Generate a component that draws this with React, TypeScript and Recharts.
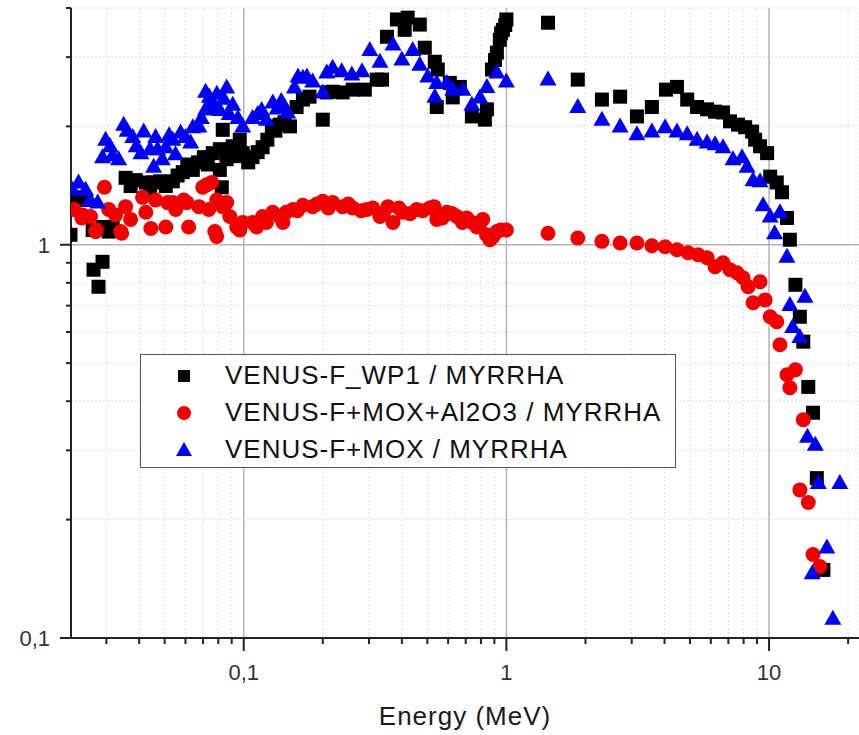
import React from 'react';
import { ScatterChart, Scatter, XAxis, YAxis, CartesianGrid, ReferenceLine, Legend } from 'recharts';

// [energy (MeV), ratio]
const wp1Points: [number, number][] = [
  [0.0219, 1.06], [0.0229, 1.32], [0.025, 1.3], [0.0266, 1.09], [0.0268, 0.864], [0.028, 0.782],
  [0.029, 1.11], [0.029, 0.905], [0.0306, 1.08], [0.0317, 1.11], [0.0355, 1.48], [0.0371, 1.41],
  [0.0388, 1.46], [0.0424, 1.44], [0.044, 1.36], [0.0454, 1.44], [0.048, 1.45], [0.0505, 1.41],
  [0.0537, 1.45], [0.056, 1.5], [0.0586, 1.53], [0.061, 1.6], [0.064, 1.55], [0.067, 1.62],
  [0.0705, 1.67], [0.073, 1.6], [0.0762, 1.71], [0.0811, 1.75], [0.0811, 1.55], [0.0825, 1.4],
  [0.0832, 1.96], [0.086, 1.65], [0.0908, 1.78], [0.093, 1.68], [0.0966, 1.85], [0.0991, 1.71],
  [0.104, 1.62], [0.108, 1.67], [0.113, 1.72], [0.118, 1.77], [0.123, 1.85], [0.128, 2.0],
  [0.132, 1.95], [0.137, 2.02], [0.143, 2.05], [0.15, 2.0], [0.159, 2.24], [0.168, 2.34],
  [0.178, 2.38], [0.2, 2.08], [0.207, 2.44], [0.218, 2.45], [0.238, 2.44], [0.26, 2.48],
  [0.289, 2.48], [0.321, 2.63], [0.336, 2.63], [0.351, 3.38], [0.383, 3.74], [0.41, 3.52],
  [0.421, 3.78], [0.468, 3.63], [0.489, 3.17], [0.534, 2.92], [0.548, 2.79], [0.543, 2.24],
  [0.609, 2.58], [0.625, 2.37], [0.665, 2.52], [0.739, 2.12], [0.828, 2.08], [0.843, 2.21],
  [0.881, 2.79], [0.905, 2.95], [0.92, 3.08], [0.944, 3.32], [0.955, 3.45], [0.97, 3.52],
  [0.99, 3.62], [1.0, 3.74], [1.44, 3.67], [1.87, 2.63], [2.31, 2.34], [2.71, 2.38], [3.14, 2.12],
  [3.58, 2.24], [4.05, 2.48], [4.46, 2.52], [4.88, 2.34], [5.32, 2.24], [5.81, 2.21], [6.23, 2.18],
  [6.68, 2.17], [7.1, 2.06], [7.62, 2.02], [8.11, 1.99], [8.62, 1.94], [8.85, 1.85], [9.24, 1.78],
  [9.83, 1.71], [10.1, 1.49], [10.7, 1.44], [11.2, 1.36], [11.7, 1.17], [12.0, 1.03], [12.6, 0.791],
  [13.1, 0.656], [13.5, 0.567], [14.1, 0.435], [14.7, 0.374], [15.2, 0.255], [16.1, 0.149],
];

const moxAl2o3Points: [number, number][] = [
  [0.0226, 1.23], [0.0242, 1.17], [0.0244, 1.19], [0.0261, 1.18], [0.0273, 1.08], [0.0275, 1.09],
  [0.0295, 1.4], [0.0306, 1.23], [0.0325, 1.19], [0.034, 1.08], [0.0343, 1.07], [0.0355, 1.25],
  [0.0371, 1.16], [0.0412, 1.32], [0.0424, 1.21], [0.0443, 1.1], [0.0462, 1.3], [0.0505, 1.11],
  [0.0513, 1.28], [0.0537, 1.28], [0.0551, 1.23], [0.0591, 1.3], [0.0607, 1.28], [0.0617, 1.11],
  [0.0675, 1.25], [0.0698, 1.4], [0.0723, 1.42], [0.0736, 1.23], [0.0755, 1.44], [0.0776, 1.08],
  [0.0789, 1.3], [0.0789, 1.05], [0.0832, 1.25], [0.0861, 1.28], [0.0885, 1.18], [0.094, 1.11],
  [0.0966, 1.09], [0.0991, 1.14], [0.108, 1.14], [0.112, 1.11], [0.118, 1.18], [0.122, 1.14],
  [0.129, 1.21], [0.137, 1.18], [0.141, 1.14], [0.145, 1.21], [0.154, 1.23], [0.16, 1.22],
  [0.168, 1.26], [0.183, 1.25], [0.19, 1.27], [0.2, 1.29], [0.21, 1.24], [0.218, 1.28],
  [0.238, 1.25], [0.25, 1.27], [0.26, 1.24], [0.28, 1.22], [0.294, 1.23], [0.31, 1.24],
  [0.33, 1.18], [0.34, 1.2], [0.354, 1.25], [0.37, 1.14], [0.39, 1.24], [0.403, 1.21],
  [0.43, 1.2], [0.456, 1.23], [0.48, 1.22], [0.511, 1.24], [0.53, 1.25], [0.543, 1.16],
  [0.57, 1.17], [0.593, 1.21], [0.62, 1.2], [0.648, 1.18], [0.68, 1.14], [0.707, 1.17],
  [0.74, 1.14], [0.772, 1.11], [0.79, 1.13], [0.813, 1.16], [0.84, 1.06], [0.866, 1.03],
  [0.89, 1.05], [0.92, 1.08], [0.95, 1.09], [1.0, 1.09], [1.44, 1.07], [1.87, 1.04], [2.31, 1.02],
  [2.71, 1.01], [3.14, 1.01], [3.58, 0.994], [4.02, 0.988], [4.46, 0.971], [4.92, 0.954],
  [5.37, 0.943], [5.81, 0.927], [6.23, 0.879], [6.68, 0.9], [7.1, 0.864], [7.55, 0.849],
  [7.96, 0.824], [8.32, 0.782], [9.24, 0.805], [8.69, 0.712], [9.66, 0.724], [10.1, 0.656],
  [10.7, 0.637], [11.0, 0.557], [11.7, 0.467], [12.6, 0.481], [12.0, 0.433], [13.5, 0.359],
  [13.1, 0.238], [14.1, 0.221], [14.7, 0.163], [15.6, 0.152],
];

const moxPoints: [number, number][] = [
  [0.0223, 1.38], [0.0235, 1.44], [0.025, 1.38], [0.026, 1.3], [0.0278, 1.28], [0.029, 1.67],
  [0.0298, 1.85], [0.031, 1.78], [0.0317, 1.69], [0.0334, 1.65], [0.0349, 2.02], [0.036, 1.95],
  [0.0378, 1.88], [0.039, 1.78], [0.0406, 1.71], [0.0416, 1.94], [0.044, 1.75], [0.0454, 1.58],
  [0.0462, 1.88], [0.047, 1.75], [0.049, 1.65], [0.0505, 1.77], [0.052, 1.9], [0.0537, 1.85],
  [0.055, 1.7], [0.0575, 1.93], [0.06, 1.88], [0.0628, 1.82], [0.064, 1.99], [0.0675, 2.0],
  [0.069, 2.1], [0.0716, 2.45], [0.0716, 2.21], [0.074, 2.38], [0.0762, 2.3], [0.0762, 2.21],
  [0.079, 2.42], [0.081, 2.2], [0.084, 2.35], [0.0861, 2.51], [0.088, 2.15], [0.0908, 2.27],
  [0.095, 2.1], [0.0991, 2.0], [0.108, 2.1], [0.113, 2.15], [0.117, 2.2], [0.122, 2.08],
  [0.129, 2.3], [0.134, 2.22], [0.139, 2.32], [0.143, 2.24], [0.147, 2.17], [0.156, 2.51],
  [0.161, 2.68], [0.168, 2.66], [0.174, 2.68], [0.183, 2.6], [0.2, 2.44], [0.207, 2.74],
  [0.218, 2.82], [0.236, 2.76], [0.258, 2.71], [0.282, 2.76], [0.302, 3.13], [0.33, 2.92],
  [0.37, 3.23], [0.4, 2.96], [0.44, 3.13], [0.468, 2.87], [0.502, 2.68], [0.534, 2.38],
  [0.543, 2.58], [0.593, 2.58], [0.625, 2.48], [0.683, 2.48], [0.739, 2.27], [0.793, 2.37],
  [0.843, 2.52], [0.92, 2.74], [1.0, 2.6], [1.44, 2.63], [1.87, 2.24], [2.31, 2.08], [2.71, 2.0],
  [3.14, 1.91], [3.58, 1.94], [4.02, 1.99], [4.46, 1.94], [4.88, 1.91], [5.32, 1.85], [5.81, 1.82],
  [6.23, 1.8], [6.68, 1.77], [7.29, 1.65], [7.89, 1.67], [8.25, 1.58], [8.69, 1.46], [9.24, 1.45],
  [9.49, 1.26], [10.1, 1.18], [11.0, 1.21], [10.5, 1.07], [11.7, 0.932], [12.0, 0.703], [13.7, 0.738],
  [12.3, 0.618], [13.1, 0.583], [14.0, 0.325], [15.0, 0.31], [15.4, 0.248], [18.6, 0.248],
  [14.6, 0.146], [16.6, 0.17], [17.5, 0.112],
];

const seriesNames = ['VENUS-F_WP1 / MYRRHA', 'VENUS-F+MOX+Al2O3 / MYRRHA', 'VENUS-F+MOX / MYRRHA'];
const seriesColors = ['#000000', '#f20000', '#0000f2'];

const xTicks = [0.03, 0.04, 0.05, 0.06, 0.07, 0.08, 0.09, 0.1, 0.2, 0.3, 0.4, 0.5, 0.6, 0.7, 0.8, 0.9, 1, 2, 3, 4, 5, 6, 7, 8, 9, 10, 20];
const yTicks = [0.1, 0.2, 0.3, 0.4, 0.5, 0.6, 0.7, 0.8, 0.9, 1, 2, 3, 4];
const xMajor = [0.1, 1, 10];
const yMajor = [0.1, 1];
const xDomain = [0.022, 22];
const yDomain = [0.1, 4];

const toRows = (pts: [number, number][]) => pts.map(([e, r]) => ({ e, r }));
const fmt = (v: number) => String(v).replace('.', ',');
const FONT = '"Liberation Sans", Arial, sans-serif';

const XTick = (props: any) => {
  const { x, y, payload } = props;
  const major = xMajor.includes(payload.value);
  return (
    <g>
      <line x1={x} x2={x} y1={y} y2={y + (major ? 13 : 6)} stroke="#222" strokeWidth={2} />
      {major && (
        <text x={x} y={y + 42} textAnchor="middle" fontSize={22} fill="#333" fontFamily={FONT}>
          {fmt(payload.value)}
        </text>
      )}
    </g>
  );
};

const YTick = (props: any) => {
  const { x, y, payload } = props;
  const major = yMajor.includes(payload.value);
  return (
    <g>
      <line x1={x - (major ? 11 : 5)} x2={x} y1={y} y2={y} stroke="#222" strokeWidth={2} />
      {major && (
        <text x={x - 21} y={y + 8} textAnchor="end" fontSize={22} fill="#333" fontFamily={FONT}>
          {fmt(payload.value)}
        </text>
      )}
    </g>
  );
};

const SquareShape = (p: any) => <rect x={p.cx - 7} y={p.cy - 7} width={14} height={14} fill={seriesColors[0]} />;
const CircleShape = (p: any) => <circle cx={p.cx} cy={p.cy} r={7.5} fill={seriesColors[1]} />;
const TriangleShape = (p: any) => (
  <polygon points={`${p.cx},${p.cy - 9} ${p.cx - 8.5},${p.cy + 6} ${p.cx + 8.5},${p.cy + 6}`} fill={seriesColors[2]} />
);

const LegendMarker = ({ i }: { i: number }) => (
  <svg width={20} height={20} style={{ position: 'absolute', left: 33, top: 9 }}>
    {i === 0 && <rect x={4} y={4} width={12} height={12} fill={seriesColors[0]} />}
    {i === 1 && <circle cx={10} cy={10} r={7} fill={seriesColors[1]} />}
    {i === 2 && <polygon points="10,2 2,16 18,16" fill={seriesColors[2]} />}
  </svg>
);

const LegendBox = () => (
  <div
    style={{
      width: 536,
      height: 114,
      boxSizing: 'border-box',
      border: '1.5px solid #555',
      background: '#fff',
      paddingTop: 2,
      fontFamily: FONT,
    }}
  >
    {seriesNames.map((n, i) => (
      <div key={n} style={{ position: 'relative', height: 37, lineHeight: '37px' }}>
        <LegendMarker i={i} />
        <span style={{ position: 'absolute', left: 84, fontSize: 26, letterSpacing: 1, color: '#111', whiteSpace: 'nowrap' }}>
          {n}
        </span>
      </div>
    ))}
  </div>
);

export default function App() {
  return (
    <div style={{ position: 'absolute', left: 0, top: 0, background: '#fff' }}>
      <ScatterChart width={859} height={735} margin={{ top: 8, right: 0, left: 0, bottom: 0 }} style={{ fontFamily: FONT }}>
        <CartesianGrid stroke="#e0e0e0" strokeDasharray="2 2" />
        <XAxis
          dataKey="e"
          type="number"
          scale="log"
          domain={xDomain}
          allowDataOverflow
          ticks={xTicks}
          interval={0}
          height={97}
          tickSize={0}
          tickMargin={0}
          tickLine={false}
          tick={<XTick />}
          axisLine={{ stroke: '#222', strokeWidth: 2 }}
          label={{ value: 'Energy (MeV)', position: 'insideBottom', offset: 10, style: { fontSize: 26, letterSpacing: 1, fill: '#1a1a1a', fontFamily: FONT } }}
        />
        <YAxis
          dataKey="r"
          type="number"
          scale="log"
          domain={yDomain}
          allowDataOverflow
          ticks={yTicks}
          interval={0}
          width={71}
          tickSize={0}
          tickMargin={0}
          tickLine={false}
          tick={<YTick />}
          axisLine={{ stroke: '#222', strokeWidth: 2 }}
        />
        {xMajor.map((v) => (
          <ReferenceLine key={'x' + v} x={v} stroke="#b5b5b5" strokeWidth={1.5} />
        ))}
        <ReferenceLine y={1} stroke="#b5b5b5" strokeWidth={1.5} />
        <Scatter name={seriesNames[0]} data={toRows(wp1Points)} shape={SquareShape} isAnimationActive={false} />
        <Scatter name={seriesNames[1]} data={toRows(moxAl2o3Points)} shape={CircleShape} isAnimationActive={false} />
        <Scatter name={seriesNames[2]} data={toRows(moxPoints)} shape={TriangleShape} isAnimationActive={false} />
        <Legend
          layout="vertical"
          align="center"
          verticalAlign="middle"
          content={<LegendBox />}
          wrapperStyle={{ position: 'absolute', left: 140, top: 354, width: 536, height: 114 }}
        />
      </ScatterChart>
    </div>
  );
}
